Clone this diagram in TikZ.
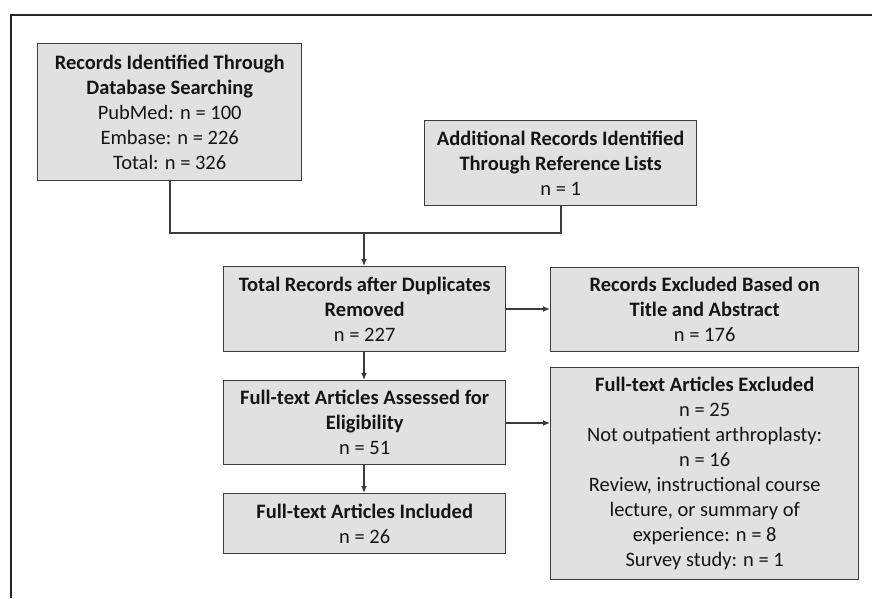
\documentclass[tikz,border=0pt]{standalone}
\usepackage{fontspec}
\setmainfont{Carlito}
\usetikzlibrary{arrows.meta}
\definecolor{boxfill}{HTML}{E1E1E1}
\definecolor{boxline}{HTML}{3C3C3C}
\definecolor{txt}{HTML}{151515}
\tikzset{
  x=1pt,y=-1pt,
  flowbox/.style={draw=boxline, line width=1.4pt, fill=boxfill, inner sep=0pt,
    align=center, text=txt, font=\fontsize{20.5}{25}\selectfont, anchor=north west},
  conn/.style={draw=boxline, line width=1.3pt},
  arr/.style={conn, -{Latex[length=7pt,width=6pt]}}
}
\newcommand{\bx}[6]{% name, x1,y1,x2,y2, text
  \node[flowbox, minimum width=#4-#2, minimum height=#5-#3] (#1) at (#2,#3) {#6};}
\begin{document}
\begin{tikzpicture}
\useasboundingbox (0,0) rectangle (872,598);
\draw[line width=2.4pt, color=black!85] (11,598) -- (11,15) -- (872,15);

\bx{db}{37}{43}{301}{180}{\textbf{Records Identified Through}\\\textbf{Database Searching}\\PubMed: n = 100\\Embase: n = 226\\Total: n = 326}
\bx{add}{424}{120}{696}{205}{\textbf{Additional Records Identified}\\\textbf{Through Reference Lists}\\n = 1}
\bx{dup}{223}{266}{505}{351}{\textbf{Total Records after Duplicates}\\\textbf{Removed}\\n = 227}
\bx{elig}{223}{380}{505}{464}{\textbf{Full-text Articles Assessed for}\\\textbf{Eligibility}\\n = 51}
\bx{incl}{223}{493}{505}{553}{\textbf{Full-text Articles Included}\\n = 26}
\bx{exta}{550}{267}{858}{351}{\textbf{Records Excluded Based on}\\\textbf{Title and Abstract}\\n = 176}
\bx{exft}{550}{367}{858}{579}{\textbf{Full-text Articles Excluded}\\n = 25\\Not outpatient arthroplasty:\\n = 16\\Review, instructional course\\lecture, or summary of\\experience: n = 8\\Survey study: n = 1}

\coordinate (jl) at (170,233);
\coordinate (jr) at (561,233);
\coordinate (jm) at (364,233);
\draw[conn] (db.south -| jl) -- (jl) -- (jr) -- (add.south -| jr);
\draw[arr] (jm) -- (dup.north -| jm);
\draw[arr] (dup.south -| jm) -- (elig.north -| jm);
\draw[arr] (elig.south -| jm) -- (incl.north -| jm);
\draw[arr] (dup.east |- 0,309) -- (exta.west |- 0,309);
\draw[arr] (elig.east |- 0,423) -- (exft.west |- 0,423);
\end{tikzpicture}
\end{document}
